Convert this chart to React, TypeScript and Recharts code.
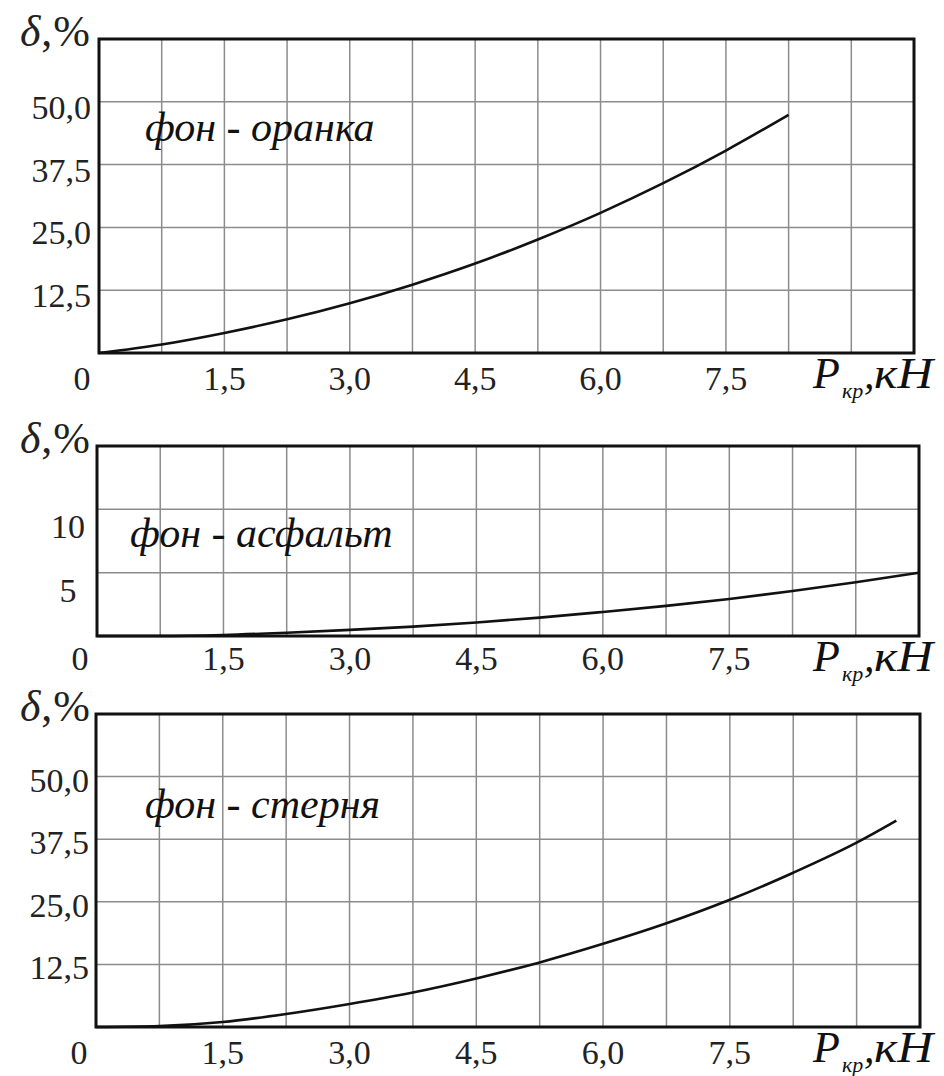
import { CartesianGrid, Line, LineChart, ReferenceArea, XAxis, YAxis } from "recharts";

const SERIF = '"Liberation Serif", "Times New Roman", serif';
const INK = "#111";
const GRID = "#8c8c8c";
const W = 944;

// grid step is 0.75 kN, every second line labelled
const X_TICKS = [0, 0.75, 1.5, 2.25, 3, 3.75, 4.5, 5.25, 6, 6.75, 7.5, 8.25, 9, 9.75];
const X_LABELED = [0, 1.5, 3, 4.5, 6, 7.5];

const Y_TICKS_WIDE = [0, 12.5, 25, 37.5, 50, 62.5];
const Y_LABELED_WIDE = [12.5, 25, 37.5, 50];
const Y_TICKS_ASPHALT = [0, 5, 10, 15];
const Y_LABELED_ASPHALT = [5, 10];

// фон - оранка
const ORANKA_P = [0, 0.75, 1.5, 2.25, 3, 3.75, 4.5, 5.25, 6, 6.75, 7.5, 8.25];
const ORANKA_D = [0, 1.7, 4.0, 6.7, 9.9, 13.6, 17.8, 22.6, 27.9, 33.8, 40.3, 47.4];

// фон - асфальт
const ASPHALT_P = [0, 0.75, 1.5, 2.25, 3, 3.75, 4.5, 5.25, 6, 6.75, 7.5, 8.25, 9, 9.75];
const ASPHALT_D = [0, 0, 0.08, 0.26, 0.48, 0.74, 1.07, 1.45, 1.9, 2.38, 2.92, 3.55, 4.25, 5.0];

// фон - стерня
const STERNYA_P = [0, 0.75, 1.5, 2.25, 3, 3.75, 4.5, 5.25, 6, 6.75, 7.5, 8.25, 9, 9.47];
const STERNYA_D = [0, 0.2, 1.0, 2.6, 4.6, 6.9, 9.7, 12.9, 16.6, 20.7, 25.4, 30.8, 36.8, 41.2];

const toRows = (p: number[], d: number[]) => p.map((x, i) => ({ p: x, d: d[i] }));

const fmtX = (v: number) => (v === 0 ? "0" : v.toFixed(1).replace(".", ","));
const fmtWide = (v: number) => v.toFixed(1).replace(".", ",");
const fmtInt = (v: number) => String(v);

interface PanelProps {
  top: number;
  height: number;
  plot: { left: number; right: number; top: number; bottom: number };
  yTicks: number[];
  yLabeled: number[];
  yFmt: (v: number) => string;
  yDy: number;
  yAnchor: "end" | "middle";
  yLabelX: number;
  xLabelDy: number;
  rows: { p: number; d: number }[];
  caption: string;
  captionX: number;
  captionY: number;
}

function Panel(props: PanelProps) {
  const { top, height, plot, yTicks, yLabeled, yFmt, yDy, yAnchor, yLabelX, xLabelDy, rows } = props;
  const yMax = yTicks[yTicks.length - 1];
  const xAxisH = height - plot.bottom;
  const base = plot.bottom + 35;

  const xTick = (t: any) => {
    const v = t.payload.value;
    if (!X_LABELED.includes(v)) return <g />;
    return (
      <text x={t.x + (v === 0 ? -17 : 0)} y={plot.bottom + xLabelDy} textAnchor="middle"
        fontFamily={SERIF} fontSize={34} fill="#222">
        {fmtX(v)}
      </text>
    );
  };

  const yTick = (t: any) => {
    const v = t.payload.value;
    if (!yLabeled.includes(v)) return <g />;
    return (
      <text x={yLabelX} y={t.y + yDy} textAnchor={yAnchor} fontFamily={SERIF} fontSize={34} fill="#222">
        {yFmt(v)}
      </text>
    );
  };

  return (
    <div style={{ position: "absolute", left: 0, top, width: W, height }}>
      <LineChart width={W} height={height} data={rows}
        margin={{ top: plot.top, right: W - plot.right, bottom: 0, left: 0 }}>
        <CartesianGrid stroke={GRID} strokeWidth={1.5} />
        <XAxis dataKey="p" type="number" domain={[0, 9.75]} ticks={X_TICKS} interval={0}
          height={xAxisH} tickLine={false} axisLine={false} tick={xTick}
          label={{
            content: () => (
              <g fontFamily={SERIF} fontStyle="italic" fill={INK}>
                <text x={813} y={base} fontSize={44}>P</text>
                <text x={842} y={base + 10} fontSize={22}>кр</text>
                <text x={864} y={base} fontSize={42}>,</text>
                <text x={874} y={base} fontSize={44} textLength={59} lengthAdjust="spacingAndGlyphs">кН</text>
              </g>
            ),
          }}
        />
        <YAxis type="number" domain={[0, yMax]} ticks={yTicks} interval={0} width={plot.left}
          tickLine={false} axisLine={false} tick={yTick}
          label={{
            content: () => (
              <text x={91} y={plot.top + 7} textAnchor="end" fontFamily={SERIF} fontSize={44}
                letterSpacing={1} fill="#222">
                <tspan fontStyle="italic">δ</tspan>,%
              </text>
            ),
          }}
        />
        <ReferenceArea x1={0} x2={9.75} y1={0} y2={yMax} fill="none" stroke={INK} strokeWidth={3} />
        <Line dataKey="d" type="monotone" stroke={INK} strokeWidth={2.6} dot={false}
          isAnimationActive={false} />
        <text x={props.captionX} y={props.captionY} fontFamily={SERIF} fontStyle="italic" fontSize={42} fill={INK}>
          {props.caption}
        </text>
      </LineChart>
    </div>
  );
}

export default function App() {
  return (
    <div style={{ position: "absolute", left: 0, top: 0, width: W, height: 1076, background: "#fff" }}>
      <Panel top={0} height={412} plot={{ left: 99, right: 914, top: 39, bottom: 353 }}
        yTicks={Y_TICKS_WIDE} yLabeled={Y_LABELED_WIDE} yFmt={fmtWide} yDy={17} yAnchor="end" yLabelX={91}
        xLabelDy={37} rows={toRows(ORANKA_P, ORANKA_D)}
        caption="фон - оранка" captionX={145} captionY={141} />
      <Panel top={400} height={292} plot={{ left: 97, right: 919, top: 46, bottom: 236 }}
        yTicks={Y_TICKS_ASPHALT} yLabeled={Y_LABELED_ASPHALT} yFmt={fmtInt} yDy={29} yAnchor="middle" yLabelX={68}
        xLabelDy={34} rows={toRows(ASPHALT_P, ASPHALT_D)}
        caption="фон - асфальт" captionX={130} captionY={147} />
      <Panel top={680} height={396} plot={{ left: 96, right: 920, top: 34, bottom: 347 }}
        yTicks={Y_TICKS_WIDE} yLabeled={Y_LABELED_WIDE} yFmt={fmtWide} yDy={15} yAnchor="end" yLabelX={89}
        xLabelDy={37} rows={toRows(STERNYA_P, STERNYA_D)}
        caption="фон - стерня" captionX={145} captionY={138} />
    </div>
  );
}
